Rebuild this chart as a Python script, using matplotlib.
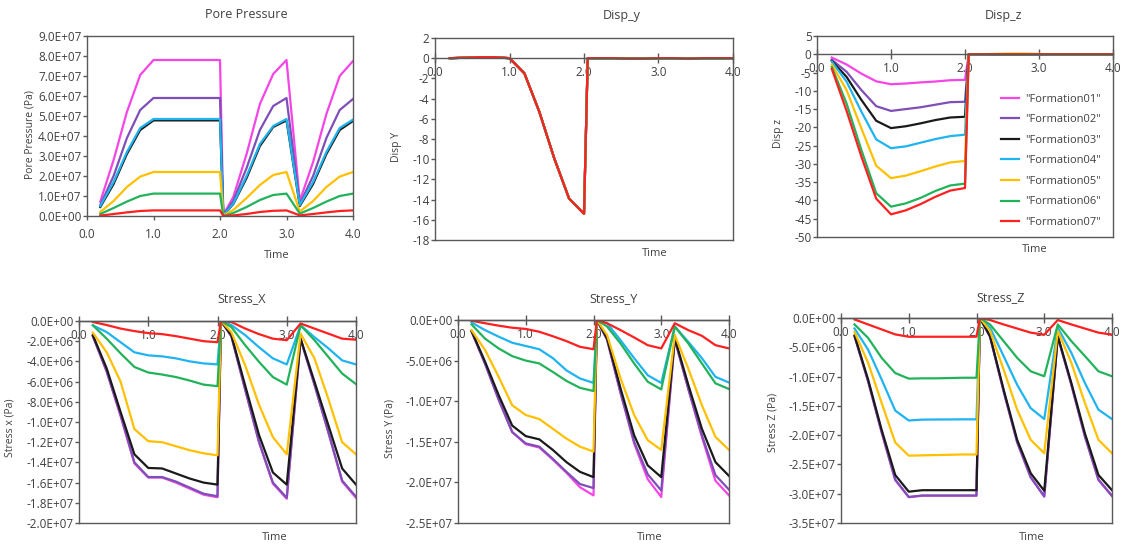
import matplotlib
matplotlib.use("Agg")
import matplotlib.pyplot as plt
from matplotlib.ticker import FuncFormatter, MultipleLocator

plt.rcParams['font.family'] = ['Open Sans', 'DejaVu Sans']

# --------------------------
# Daten
# --------------------------
time = [0.2, 0.4, 0.6, 0.8, 1.0, 1.2, 1.4, 1.6, 1.8, 2.0, 2.05,
        2.2, 2.4, 2.6, 2.8, 3.0, 3.2, 3.4, 3.6, 3.8, 4.0]

formations = ['"Formation01"', '"Formation02"', '"Formation03"', '"Formation04"',
              '"Formation05"', '"Formation06"', '"Formation07"']
colors = ["#F545E6", "#7F4FB8", "#1A1A1A", "#1FB4F0", "#FFC000", "#22B35A", "#FF2020"]

# Pore Pressure, 1e7 Pa
pore = [
    [0.72, 2.8, 5.2, 7.05, 7.8, 7.8, 7.8, 7.8, 7.8, 7.8, 0.05, 0.95, 3.1, 5.6, 7.1, 7.8, 0.75, 2.7, 5.1, 7.0, 7.75],
    [0.55, 2.0, 3.9, 5.3, 5.9, 5.9, 5.9, 5.9, 5.9, 5.9, 0.04, 0.75, 2.4, 4.3, 5.5, 5.9, 0.6, 2.0, 3.9, 5.3, 5.85],
    [0.45, 1.6, 3.1, 4.3, 4.78, 4.78, 4.78, 4.78, 4.78, 4.78, 0.03, 0.6, 1.9, 3.5, 4.45, 4.78, 0.5, 1.6, 3.1, 4.3, 4.75],
    [0.5, 1.7, 3.2, 4.4, 4.85, 4.85, 4.85, 4.85, 4.85, 4.85, 0.03, 0.62, 2.0, 3.6, 4.5, 4.85, 0.55, 1.7, 3.2, 4.4, 4.82],
    [0.2, 0.75, 1.45, 1.97, 2.2, 2.2, 2.2, 2.2, 2.2, 2.2, 0.02, 0.3, 0.9, 1.55, 2.05, 2.2, 0.22, 0.75, 1.45, 1.97, 2.2],
    [0.1, 0.4, 0.72, 1.0, 1.12, 1.12, 1.12, 1.12, 1.12, 1.12, 0.0, 0.15, 0.45, 0.8, 1.05, 1.12, 0.12, 0.4, 0.72, 1.0, 1.12],
    [0.02, 0.1, 0.18, 0.25, 0.28, 0.28, 0.28, 0.28, 0.28, 0.28, 0.0, 0.03, 0.1, 0.2, 0.26, 0.28, 0.03, 0.1, 0.18, 0.25, 0.28],
]

# Disp_y: alle Formationen liegen aufeinander
disp_y = [0.0, 0.05, 0.1, 0.1, 0.0, -1.5, -5.3, -9.9, -13.9, -15.4, 0.0,
          0.0, 0.0, -0.05, -0.05, 0.0, 0.0, -0.05, 0.0, 0.0, 0.0]

disp_z = [
    [-0.9, -2.8, -5.3, -7.4, -8.2, -8.0, -7.7, -7.45, -7.1, -7.0, 0, 0, 0, 0, 0, 0, 0, 0, 0, 0, 0],
    [-1.5, -4.8, -9.8, -14.2, -15.5, -15.0, -14.5, -13.8, -13.1, -13.0, 0, 0, 0, 0, 0, 0, 0, 0, 0, 0, 0],
    [-1.8, -6.2, -12.5, -18.2, -20.2, -19.7, -18.9, -18.0, -17.3, -17.1, 0, 0, 0, 0, 0, 0, 0, 0, 0, 0, 0],
    [-2.0, -7.5, -15.7, -23.3, -25.7, -25.2, -24.2, -23.2, -22.4, -22.0, 0, 0, 0, 0, 0, 0, 0, 0, 0, 0, 0],
    [-2.8, -9.8, -20.3, -30.5, -33.9, -33.2, -32.0, -30.7, -29.6, -29.2, 0, 0, 0.1, 0.2, 0.2, 0.1, 0, 0, 0, 0, 0],
    [-3.5, -13.5, -26.2, -38.0, -41.7, -40.8, -39.3, -37.4, -35.9, -35.4, 0, 0, 0, 0, 0, 0, 0, 0, 0, 0, 0],
    [-4.0, -15.5, -28.0, -39.5, -43.8, -42.7, -41.0, -39.0, -37.3, -36.6, 0, 0, 0, 0, 0, 0, 0, 0, 0, 0, 0],
]

# Stress, 1e6 Pa
stress_x = [
    [-1.5, -5.0, -9.4, -14.1, -15.5, -15.5, -16.0, -16.6, -17.2, -17.45, 0, -1.5, -6.8, -12.0, -16.1, -17.6, -1.8, -6.3, -11.0, -15.9, -17.5],
    [-1.5, -5.0, -9.3, -14.0, -15.45, -15.45, -15.9, -16.5, -17.1, -17.35, 0, -1.5, -6.8, -12.0, -16.0, -17.5, -1.8, -6.3, -11.0, -15.8, -17.4],
    [-1.4, -4.7, -9.0, -13.2, -14.55, -14.6, -15.1, -15.6, -16.0, -16.2, 0, -1.4, -6.4, -11.3, -15.0, -16.2, -1.75, -6.0, -10.3, -14.6, -16.2],
    [-0.43, -1.1, -2.1, -3.1, -3.4, -3.5, -3.7, -4.0, -4.2, -4.3, 0, -0.4, -1.4, -2.6, -3.7, -4.3, -0.43, -1.6, -2.7, -3.9, -4.3],
    [-1.15, -3.1, -6.0, -10.7, -11.9, -12.0, -12.4, -12.8, -13.1, -13.3, 0, -1.1, -4.4, -8.3, -11.5, -13.2, -1.25, -3.7, -7.7, -12.0, -13.2],
    [-0.43, -1.75, -3.2, -4.55, -5.1, -5.3, -5.55, -5.9, -6.3, -6.45, 0, -0.6, -2.4, -4.05, -5.55, -6.3, -0.43, -1.9, -3.55, -5.2, -6.25],
    [-0.1, -0.4, -0.75, -1.0, -1.2, -1.3, -1.5, -1.75, -2.0, -2.1, 0, -0.1, -0.75, -1.3, -1.75, -1.9, -0.25, -0.75, -1.25, -1.75, -1.85],
]

stress_y = [
    [-1.4, -5.4, -9.8, -13.8, -15.3, -15.7, -17.2, -18.8, -20.6, -21.6, 0, -2.4, -9.0, -15.2, -19.6, -21.8, -2.4, -8.5, -14.4, -19.8, -21.6],
    [-1.4, -5.4, -9.8, -13.8, -15.2, -15.6, -17.1, -18.7, -20.2, -20.7, 0, -2.4, -9.0, -15.0, -19.0, -21.0, -2.4, -8.5, -14.2, -19.1, -20.9],
    [-1.35, -5.15, -9.25, -13.0, -14.3, -14.7, -16.0, -17.5, -18.7, -19.35, 0, -2.25, -8.45, -14.2, -17.9, -19.35, -2.25, -8.0, -13.4, -17.5, -19.2],
    [-0.3, -1.25, -2.05, -2.8, -3.2, -3.6, -4.7, -6.2, -7.2, -7.75, 0, -0.4, -2.5, -4.7, -6.8, -7.75, -0.8, -2.7, -4.7, -7.0, -7.7],
    [-1.25, -3.7, -7.0, -10.5, -11.7, -12.2, -13.4, -14.6, -15.6, -16.2, 0, -1.85, -7.2, -11.7, -14.8, -16.0, -1.85, -6.0, -10.5, -14.4, -16.0],
    [-0.55, -2.3, -3.5, -4.45, -5.0, -5.35, -6.4, -7.5, -8.35, -8.75, 0, -0.8, -2.9, -5.35, -7.6, -8.55, -0.8, -2.9, -5.35, -7.8, -8.5],
    [-0.1, -0.4, -0.7, -0.95, -1.1, -1.45, -2.0, -2.6, -3.3, -3.6, 0, -0.4, -1.25, -2.15, -3.1, -3.5, -0.4, -1.25, -1.95, -3.1, -3.5],
]

stress_z = [
    [-3.1, -10.8, -19.5, -27.65, -30.6, -30.35, -30.35, -30.35, -30.35, -30.35, 0, -3.2, -12.5, -21.2, -27.2, -30.5, -3.2, -11.4, -20.2, -27.65, -30.4],
    [-3.1, -10.8, -19.5, -27.6, -30.55, -30.3, -30.3, -30.3, -30.3, -30.3, 0, -3.2, -12.5, -21.2, -27.2, -30.45, -3.2, -11.4, -20.2, -27.6, -30.35],
    [-3.0, -10.5, -19.1, -26.8, -29.65, -29.4, -29.4, -29.4, -29.4, -29.4, 0, -3.1, -12.2, -20.8, -26.5, -29.5, -3.1, -11.1, -19.7, -26.8, -29.4],
    [-1.8, -5.4, -10.5, -15.8, -17.5, -17.35, -17.33, -17.32, -17.3, -17.3, 0, -1.65, -6.5, -11.4, -15.4, -17.25, -1.65, -5.95, -11.1, -15.65, -17.25],
    [-2.4, -7.65, -14.5, -21.25, -23.5, -23.45, -23.4, -23.35, -23.3, -23.3, 0, -2.2, -8.8, -15.65, -20.8, -23.1, -2.2, -7.65, -14.5, -20.8, -23.1],
    [-1.1, -3.4, -6.8, -9.4, -10.35, -10.3, -10.3, -10.25, -10.2, -10.2, 0, -1.1, -3.95, -6.8, -9.1, -9.95, -1.1, -3.95, -6.5, -9.1, -9.95],
    [-0.25, -1.1, -1.95, -2.8, -3.2, -3.2, -3.2, -3.2, -3.2, -3.2, 0, -0.35, -1.1, -1.8, -2.5, -2.85, -0.35, -1.1, -1.8, -2.5, -2.85],
]

# --------------------------
# Layout (Pixel)
# --------------------------
W, H = 1124, 547
AX_COL = "#595959"
TXT_COL = "#404040"
TICK_FS = 8.5

fig = plt.figure(figsize=(W / 100, H / 100), dpi=100)


def px_axes(l, t, r, b):
    return fig.add_axes([l / W, 1 - b / H, (r - l) / W, (b - t) / H])


def px_text(x, y, s, **kw):
    fig.text(x / W, 1 - y / H, s, ha="center", va="center", color=TXT_COL, **kw)


def sci(v, pos):
    if abs(v) < 1e-6:
        return "0.0E+00"
    return f"{v:.1E}"


def integer(v, pos):
    return f"{int(round(v))}"


def style_axes(ax, ylim, ystep, yfmt, zero_line):
    ax.set_xlim(0, 4)
    ax.set_ylim(*ylim)
    ax.xaxis.set_major_locator(MultipleLocator(1.0))
    ax.xaxis.set_major_formatter(FuncFormatter(lambda v, p: f"{v:.1f}"))
    ax.yaxis.set_major_locator(MultipleLocator(ystep))
    ax.yaxis.set_major_formatter(FuncFormatter(yfmt))
    for sp in ax.spines.values():
        sp.set_color(AX_COL)
        sp.set_linewidth(1.0)
    ax.tick_params(axis="y", direction="out", length=3, width=1, pad=1,
                   color=AX_COL, labelcolor=TXT_COL, labelsize=TICK_FS)
    if zero_line:
        # x-Achse kreuzt bei y=0, Rahmen unten extra
        ax.spines["bottom"].set_position(("data", 0))
        ax.tick_params(axis="x", direction="inout", length=7, width=1, pad=2,
                       color=AX_COL, labelcolor=TXT_COL, labelsize=TICK_FS)
        frame = ax.secondary_xaxis("bottom")
        frame.set_xticks([])
        frame.spines["bottom"].set_color(AX_COL)
        frame.spines["bottom"].set_linewidth(1.0)
    else:
        ax.tick_params(axis="x", direction="out", length=3, width=1, pad=6,
                       color=AX_COL, labelcolor=TXT_COL, labelsize=TICK_FS)


def draw_lines(ax, series, scale, labels=False):
    for i, vals in enumerate(series):
        ax.plot(time, [v * scale for v in vals], color=colors[i], lw=1.6,
                label=formations[i] if labels else None)


# --------------------------
# Pore Pressure
# --------------------------
ax = px_axes(87, 36, 353, 216)
draw_lines(ax, pore, 1e7)
style_axes(ax, (0, 9e7), 1e7, sci, False)
px_text(246, 14, "Pore Pressure", fontsize=9)
px_text(277, 255, "Time", fontsize=8)
px_text(30, 135, "Pore Pressure (Pa)", fontsize=7.5, rotation=90)

# --------------------------
# Disp_y
# --------------------------
ax = px_axes(435, 38, 733, 240)
draw_lines(ax, [disp_y] * len(formations), 1.0)
style_axes(ax, (-18, 2), 2, integer, True)
px_text(622, 15, "Disp_y", fontsize=9)
px_text(655, 254, "Time", fontsize=8)
px_text(397, 147, "Disp Y", fontsize=7.5, rotation=90)

# --------------------------
# Disp_z
# --------------------------
ax = px_axes(817, 36, 1113, 237)
draw_lines(ax, disp_z, 1.0, labels=True)
style_axes(ax, (-50, 5), 5, integer, True)
px_text(1003, 15, "Disp_z", fontsize=9)
px_text(1035, 250, "Time", fontsize=8)
px_text(778, 133, "Disp z", fontsize=7.5, rotation=90)
leg = ax.legend(loc="upper left", bbox_to_anchor=(0.605, 0.735), frameon=False,
                fontsize=8, handlelength=1.7, handletextpad=0.5, labelspacing=0.86,
                borderaxespad=0)
for t in leg.get_texts():
    t.set_color(TXT_COL)

# --------------------------
# Stress_X / Y / Z
# --------------------------
ax = px_axes(79, 321, 356, 523)
draw_lines(ax, stress_x, 1e6)
style_axes(ax, (-2e7, 0), 2e6, sci, True)
px_text(242, 299, "Stress_X", fontsize=9)
px_text(275, 537, "Time", fontsize=8)
px_text(10, 428, "Stress x (Pa)", fontsize=7.5, rotation=90)

ax = px_axes(458, 320, 729, 523)
draw_lines(ax, stress_y, 1e6)
style_axes(ax, (-2.5e7, 0), 5e6, sci, True)
px_text(613, 299, "Stress_Y", fontsize=9)
px_text(650, 537, "Time", fontsize=8)
px_text(390, 428, "Stress Y (Pa)", fontsize=7.5, rotation=90)

ax = px_axes(841, 318, 1112, 523)
draw_lines(ax, stress_z, 1e6)
style_axes(ax, (-3.5e7, 0), 5e6, sci, True)
px_text(1001, 298, "Stress_Z", fontsize=9)
px_text(1032, 537, "Time", fontsize=8)
px_text(773, 422, "Stress Z (Pa)", fontsize=7.5, rotation=90)

fig.savefig("out.png", dpi=100)
